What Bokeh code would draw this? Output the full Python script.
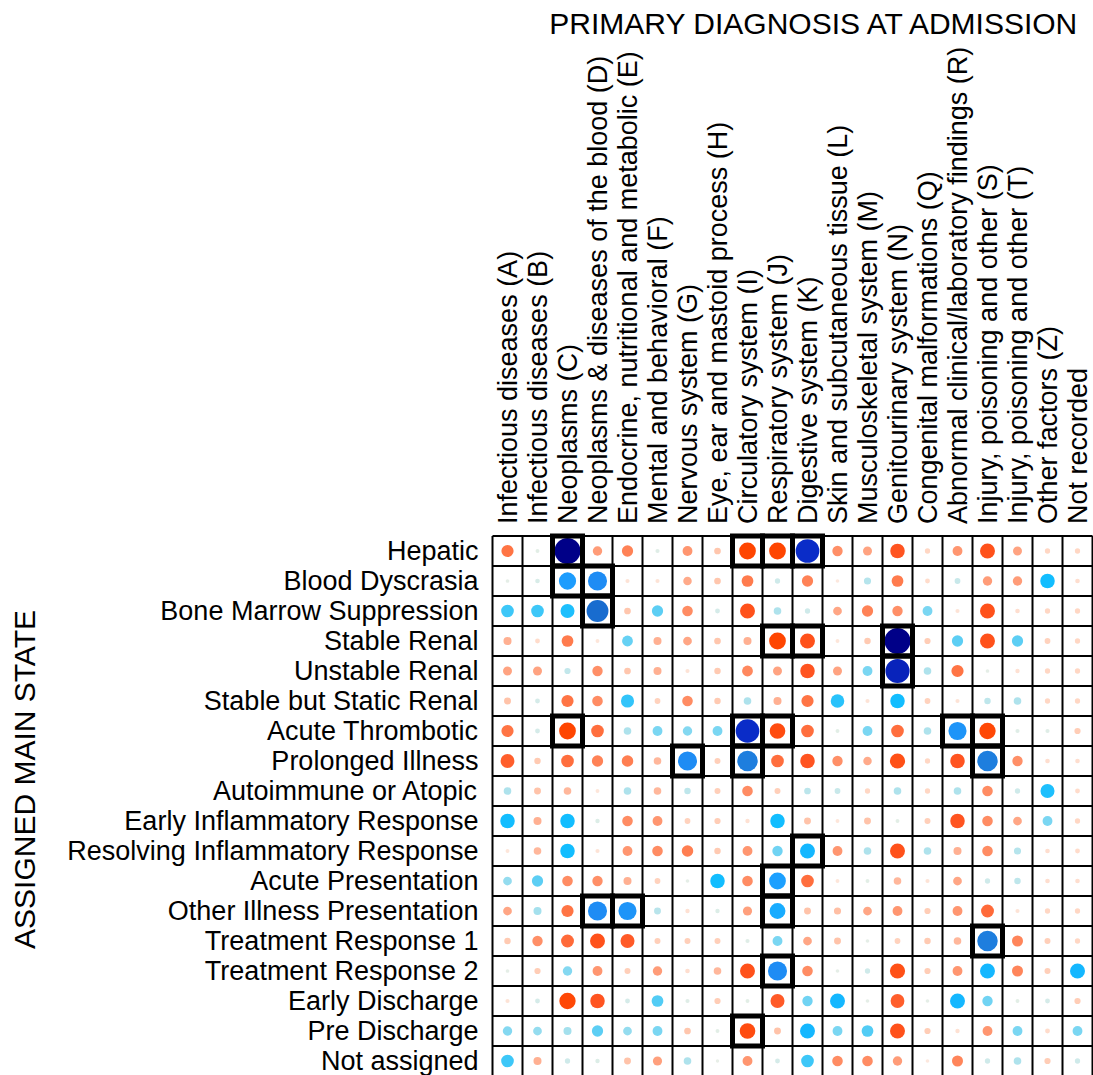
import numpy as np
from bokeh.plotting import figure
from bokeh.models import Range1d, ColumnDataSource
from bokeh.core.properties import value
from bokeh.embed import file_html
from bokeh.resources import INLINE

# Primary diagnosis categories (columns)
diagnoses = [
    "Infectious diseases (A)", "Infectious diseases (B)", "Neoplasms (C)",
    "Neoplasms & diseases of the blood (D)", "Endocrine, nutritional and metabolic (E)",
    "Mental and behavioral (F)", "Nervous system (G)", "Eye, ear and mastoid process (H)",
    "Circulatory system (I)", "Respiratory system (J)", "Digestive system (K)",
    "Skin and subcutaneous tissue (L)", "Musculoskeletal system (M)",
    "Genitourinary system (N)", "Congenital malformations (Q)",
    "Abnormal clinical/laboratory findings (R)", "Injury, poisoning and other (S)",
    "Injury, poisoning and other (T)", "Other factors (Z)", "Not recorded",
]
codes = ["A", "B", "C", "D", "E", "F", "G", "H", "I", "J",
         "K", "L", "M", "N", "Q", "R", "S", "T", "Z", "NR"]

# Assigned main states (rows)
states = [
    "Hepatic", "Blood Dyscrasia", "Bone Marrow Suppression", "Stable Renal",
    "Unstable Renal", "Stable but Static Renal", "Acute Thrombotic",
    "Prolonged Illness", "Autoimmune or Atopic", "Early Inflammatory Response",
    "Resolving Inflammatory Response", "Acute Presentation",
    "Other Illness Presentation", "Treatment Response 1", "Treatment Response 2",
    "Early Discharge", "Pre Discharge", "Not assigned",
]

# Association between state and diagnosis, one list per state (A .. Not recorded)
hepatic = [-0.40, 0.04, 1.00, -0.28, -0.36, 0.05, -0.30, -0.16, -0.60, -0.60,
           0.90, -0.32, -0.26, -0.50, -0.10, -0.30, -0.52, -0.26, -0.10, -0.10]
blood_dyscrasia = [0.03, 0.07, 0.62, 0.70, -0.05, -0.05, -0.24, -0.16, -0.38, 0.10,
                   -0.36, -0.03, 0.18, -0.38, -0.08, 0.12, -0.28, -0.28, 0.50, -0.07]
bone_marrow = [0.42, 0.42, 0.48, 0.82, -0.16, 0.36, -0.33, 0.08, -0.52, 0.20,
               0.10, -0.25, -0.36, -0.32, 0.30, -0.05, -0.52, -0.07, -0.10, -0.10]
stable_renal = [-0.22, -0.08, -0.38, -0.04, 0.34, -0.22, -0.25, -0.16, -0.22, -0.60,
                -0.52, -0.04, -0.15, 1.00, -0.14, 0.36, -0.52, 0.36, -0.12, -0.10]
unstable_renal = [-0.26, -0.26, 0.14, -0.32, -0.16, -0.22, -0.05, -0.15, -0.34, -0.26,
                  -0.50, -0.26, 0.30, 0.92, 0.20, -0.40, 0.03, -0.06, -0.10, -0.10]
static_renal = [-0.17, 0.08, -0.40, -0.33, 0.44, -0.12, -0.33, -0.15, 0.20, -0.22,
                -0.40, 0.46, -0.05, 0.50, -0.12, -0.05, 0.15, 0.20, -0.10, -0.10]
acute_thrombotic = [-0.40, 0.08, -0.60, -0.42, 0.20, 0.30, 0.28, 0.30, 0.90, -0.55,
                    -0.42, 0.04, 0.30, -0.42, 0.20, 0.66, -0.58, 0.05, 0.05, -0.14]
prolonged_illness = [-0.47, -0.15, -0.42, -0.36, -0.37, -0.20, 0.70, -0.13, 0.76, -0.42,
                     -0.50, -0.32, -0.24, -0.53, -0.10, -0.50, 0.76, -0.32, -0.07, -0.07]
autoimmune = [0.20, -0.17, -0.20, -0.04, 0.20, -0.20, 0.15, -0.13, -0.33, -0.13,
              0.16, 0.12, -0.10, 0.20, -0.10, 0.20, -0.33, 0.10, 0.48, -0.08]
early_inflammatory = [0.50, -0.22, 0.50, 0.06, -0.33, -0.30, -0.12, -0.14, -0.06, 0.50,
                      -0.17, -0.04, -0.17, 0.04, -0.13, -0.50, -0.33, -0.25, 0.30, -0.10]
resolving_inflammatory = [-0.04, -0.20, 0.50, -0.05, -0.30, -0.33, -0.37, -0.15, -0.30, 0.32,
                          0.52, -0.30, 0.20, -0.52, 0.20, -0.22, -0.33, 0.18, -0.07, -0.08]
acute_presentation = [0.25, 0.36, -0.33, -0.32, -0.22, -0.12, 0.03, 0.50, -0.33, 0.60,
                      -0.42, -0.04, 0.04, -0.20, -0.05, -0.25, 0.10, 0.15, -0.07, -0.07]
other_illness = [-0.25, 0.22, -0.40, 0.70, 0.66, 0.17, -0.06, 0.06, -0.27, 0.56,
                 -0.17, -0.18, -0.25, -0.30, -0.14, -0.30, -0.43, -0.05, -0.10, -0.10]
treatment_response_1 = [-0.15, -0.32, -0.43, -0.52, -0.48, -0.13, -0.13, -0.13, 0.05, 0.30,
                        -0.25, -0.17, 0.03, -0.12, -0.15, -0.20, 0.76, -0.35, -0.13, -0.10]
treatment_response_2 = [0.03, -0.14, 0.28, -0.30, -0.13, -0.28, -0.07, -0.20, -0.52, 0.70,
                        -0.33, 0.03, 0.10, -0.53, -0.14, -0.30, 0.52, -0.35, -0.13, 0.52]
early_discharge = [-0.05, 0.08, -0.58, -0.50, 0.08, 0.38, 0.05, -0.14, 0.04, -0.48,
                   0.32, 0.52, 0.03, -0.47, 0.03, 0.52, 0.32, 0.04, 0.08, -0.14]
pre_discharge = [0.28, 0.25, 0.22, 0.36, 0.25, 0.30, -0.16, 0.04, -0.55, -0.17,
                 0.52, 0.30, 0.38, -0.52, -0.14, -0.06, -0.30, 0.30, -0.08, 0.30]
not_assigned = [0.42, -0.22, 0.10, 0.06, -0.17, -0.27, 0.20, 0.02, -0.30, 0.08,
                0.42, -0.33, -0.33, -0.28, -0.03, -0.35, 0.10, 0.20, -0.14, 0.10]

state_rows = [hepatic, blood_dyscrasia, bone_marrow, stable_renal, unstable_renal,
              static_renal, acute_thrombotic, prolonged_illness, autoimmune,
              early_inflammatory, resolving_inflammatory, acute_presentation,
              other_illness, treatment_response_1, treatment_response_2,
              early_discharge, pre_discharge, not_assigned]

# Highlighted (state, diagnosis code) cells
highlighted = [
    ("Hepatic", "C"), ("Hepatic", "I"), ("Hepatic", "J"), ("Hepatic", "K"),
    ("Blood Dyscrasia", "C"), ("Blood Dyscrasia", "D"),
    ("Bone Marrow Suppression", "D"),
    ("Stable Renal", "J"), ("Stable Renal", "K"), ("Stable Renal", "N"),
    ("Unstable Renal", "N"),
    ("Acute Thrombotic", "C"), ("Acute Thrombotic", "I"), ("Acute Thrombotic", "J"),
    ("Acute Thrombotic", "R"), ("Acute Thrombotic", "S"),
    ("Prolonged Illness", "G"), ("Prolonged Illness", "I"), ("Prolonged Illness", "S"),
    ("Resolving Inflammatory Response", "K"),
    ("Acute Presentation", "J"),
    ("Other Illness Presentation", "D"), ("Other Illness Presentation", "E"),
    ("Other Illness Presentation", "J"),
    ("Treatment Response 1", "S"),
    ("Treatment Response 2", "J"),
    ("Pre Discharge", "I"),
]

# Diverging colour ramp: red-orange for negative, cyan to navy for positive
ramp_stops = [-0.60, -0.50, -0.40, -0.30, -0.22, -0.15, -0.08, -0.03, 0.00, 0.04,
              0.10, 0.20, 0.30, 0.40, 0.50, 0.60, 0.70, 0.76, 0.82, 0.90, 1.00]
ramp_colors = ["#FF4500", "#FF5420", "#FF7444", "#FF9670", "#FFB092", "#FFCAB2",
               "#FFDCCB", "#FCE8DE", "#EEF0EA", "#E2EEE6", "#CFEAEA", "#AEE2EC",
               "#7AD6F2", "#48C9F6", "#12BDFF", "#1CA0FF", "#1E8CF4", "#1E7EDE",
               "#186CCF", "#0A2CC8", "#000088"]


def ramp(v):
    rgb = np.array([[int(c[i:i + 2], 16) for i in (1, 3, 5)] for c in ramp_colors], float)
    ch = [np.interp(v, ramp_stops, rgb[:, k]) for k in range(3)]
    return "#%02x%02x%02x" % tuple(int(round(c)) for c in ch)


n_cols = len(codes)
n_rows = len(states)

xs, ys, vals, cols, sizes = [], [], [], [], []
for r, row in enumerate(state_rows):
    for c, v in enumerate(row):
        xs.append(c + 0.5)
        ys.append(r + 0.5)
        vals.append(v)
        cols.append(ramp(v))
        sizes.append(3 + 23 * abs(v))
dots = ColumnDataSource(dict(x=xs, y=ys, v=vals, color=cols, size=sizes))

box_x = [codes.index(c) + 0.5 for s, c in highlighted]
box_y = [states.index(s) + 0.5 for s, c in highlighted]

# One cell = 30 px; grid's top-left corner sits at (492, 535.5) on the page
W, H = 1093, 1075
cell = 30.0
x0, y0 = 492.0, 535.5
p = figure(width=W, height=H, output_backend="svg", toolbar_location=None,
           x_axis_type=None, y_axis_type=None, min_border=0,
           x_range=Range1d(-x0 / cell, (W - x0) / cell),
           y_range=Range1d((H - y0) / cell, -y0 / cell))
p.outline_line_color = None
p.background_fill_color = "white"
p.border_fill_color = "white"

# cell grid
p.segment(x0=list(range(n_cols + 1)), y0=[0] * (n_cols + 1),
          x1=list(range(n_cols + 1)), y1=[n_rows] * (n_cols + 1),
          line_color="black", line_width=2)
p.segment(x0=[0] * (n_rows + 1), y0=list(range(n_rows + 1)),
          x1=[n_cols] * (n_rows + 1), y1=list(range(n_rows + 1)),
          line_color="black", line_width=2)

# circles: colour and size from the association value
p.scatter("x", "y", source=dots, size="size", fill_color="color",
          line_color=None, marker="circle")

# highlighted cells
p.rect(x=box_x, y=box_y, width=1, height=1, fill_alpha=0,
       line_color="black", line_width=5, line_join="miter")

font = value("Liberation Sans")

# row labels
p.text(x=[-14 / cell] * n_rows, y=[r + 0.5 for r in range(n_rows)], text=states,
       text_font=font, text_font_size=value("27px"), text_align="right",
       text_baseline="middle", text_color="black")

# column labels, rotated
p.text(x=[c + 0.5 for c in range(n_cols)], y=[-12 / cell] * n_cols, text=diagnoses,
       angle=np.pi / 2, text_font=font, text_font_size=value("27px"),
       text_align="left", text_baseline="middle", text_color="black")

# axis titles
p.text(x=[(815 - x0) / cell], y=[(23 - y0) / cell], text=["PRIMARY DIAGNOSIS AT ADMISSION"],
       text_font=font, text_font_size=value("30px"), text_align="center",
       text_baseline="middle", text_color="black")
p.text(x=[(24 - x0) / cell], y=[(779 - y0) / cell], text=["ASSIGNED MAIN STATE"],
       angle=np.pi / 2, text_font=font, text_font_size=value("30px"),
       text_align="center", text_baseline="middle", text_color="black")

open("out.html", "w").write(file_html(p, INLINE))
